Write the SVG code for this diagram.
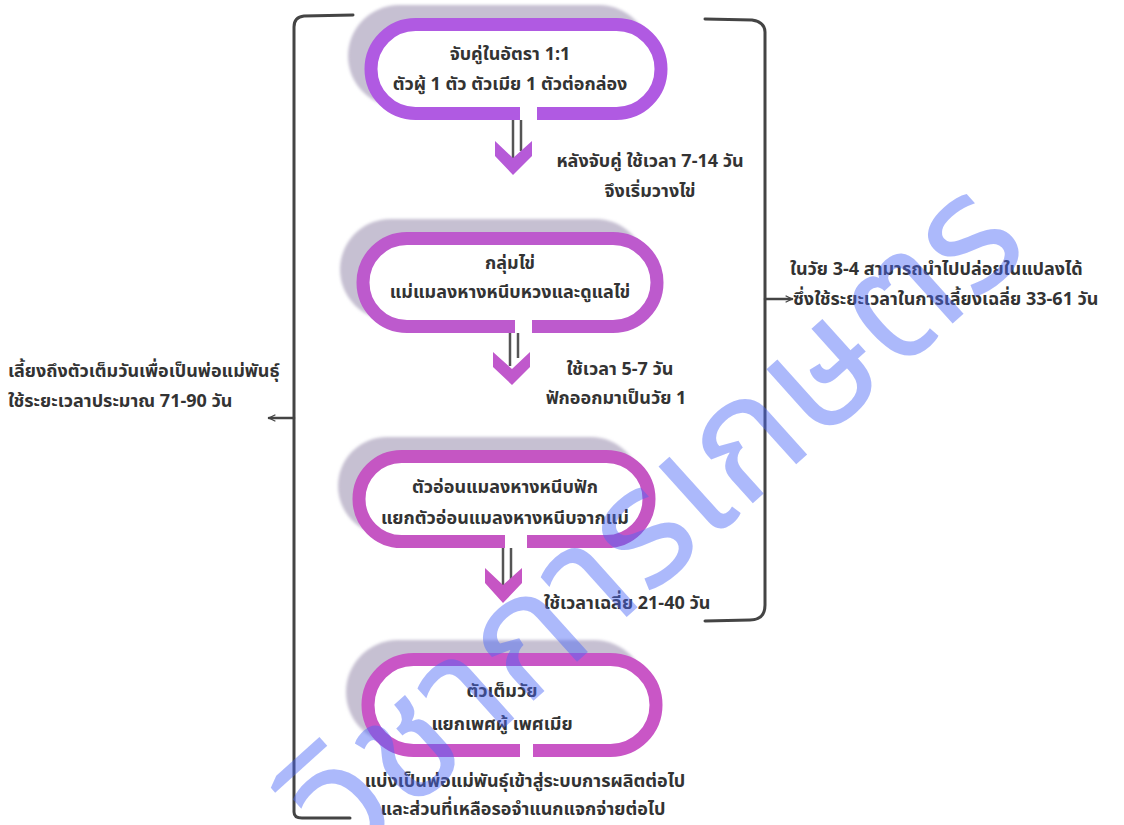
<svg xmlns="http://www.w3.org/2000/svg" width="1124" height="825" viewBox="0 0 1124 825">
<style>
.t{font-family:"Noto Sans Thai","Tahoma","Noto Sans","DejaVu Sans",sans-serif;font-weight:bold;font-size:18px;fill:#333}
.c{text-anchor:middle}
.sh{fill:#c6c0d2}
.ring{fill:#fff;stroke-width:13;stroke-linecap:butt}
.br{fill:none;stroke:#444;stroke-width:3;stroke-linecap:round;stroke-linejoin:round}
.ln{stroke:#555;stroke-width:2.5}
.wm{font-family:"Noto Sans Thai","Tahoma","Noto Sans",sans-serif;font-size:165px;fill:#4a66f7;opacity:0.45}
</style>
<defs>
<filter id="bl" x="-10%" y="-10%" width="120%" height="120%"><feGaussianBlur stdDeviation="1.5"/></filter>
<marker id="ah" viewBox="0 0 10 10" refX="9" refY="5" markerWidth="8" markerHeight="8" markerUnits="userSpaceOnUse" orient="auto"><path d="M1,1 L9,5 L1,9" fill="none" stroke="#444" stroke-width="1.6"/></marker>
</defs>

<g id="connectors">
<path class="br" d="M353,15 L304,16 Q294,17 294,27 L294,812 Q294,818 302,818 L350,818"/>
<path class="br" d="M705,19 L752,20 Q765,22 765,32 L765,605 Q765,620 750,620 L705,621"/>
<line class="br" x1="294" y1="418" x2="269" y2="418" marker-end="url(#ah)" style="stroke-width:2.5"/>
<line class="br" x1="765" y1="299" x2="792" y2="299" marker-end="url(#ah)" style="stroke-width:2.5"/>
<g id="arrow1">
<line class="ln" x1="513" y1="120" x2="513" y2="161"/>
<line class="ln" x1="521" y1="120" x2="521" y2="151"/>
<polygon points="495,141 513,158 532,141 532,156 513,175 495,156" fill="#b65ad8"/>
</g>
<g id="arrow2">
<line class="ln" x1="510" y1="333" x2="510" y2="366"/>
<line class="ln" x1="518" y1="333" x2="518" y2="358"/>
<polygon points="493,352 512,369 530,352 530,367 512,385 493,367" fill="#c058cc"/>
</g>
<g id="arrow3">
<line class="ln" x1="503" y1="548" x2="503" y2="588"/>
<line class="ln" x1="511" y1="548" x2="511" y2="580"/>
<polygon points="485,568 503,585 522,568 522,583 503,603 485,583" fill="#c655c4"/>
</g>
</g>

<g id="node1">
<rect class="sh" x="348" y="5" width="302" height="102" rx="51" filter="url(#bl)"/>
<path class="ring" stroke="#b05ae2" d="M537,113.5 L616.5,113.5 A44.5,44.5 0 0 0 616.5,24.5 L415.5,24.5 A44.5,44.5 0 0 0 415.5,113.5 L520,113.5"/>
<text class="t c" x="510" y="60">จับคู่ในอัตรา 1:1</text>
<text class="t c" x="510" y="90">ตัวผู้ 1 ตัว ตัวเมีย 1 ตัวต่อกล่อง</text>
</g>

<g id="node2">
<rect class="sh" x="340" y="219" width="306" height="101" rx="50.5" filter="url(#bl)"/>
<path class="ring" stroke="#bd5acd" d="M532,326.5 L613,326.5 A44,44 0 0 0 613,238.5 L407,238.5 A44,44 0 0 0 407,326.5 L515,326.5"/>
<text class="t c" x="510" y="269">กลุ่มไข่</text>
<text class="t c" x="510" y="298">แม่แมลงหางหนีบหวงและดูแลไข่</text>
</g>

<g id="node3">
<rect class="sh" x="338" y="437" width="302" height="98" rx="49" filter="url(#bl)"/>
<path class="ring" stroke="#c556c3" d="M527,541.5 L606.5,541.5 A42.5,42.5 0 0 0 606.5,456.5 L401.5,456.5 A42.5,42.5 0 0 0 401.5,541.5 L505,541.5"/>
<text class="t c" x="505" y="493">ตัวอ่อนแมลงหางหนีบฟัก</text>
<text class="t c" x="505" y="524">แยกตัวอ่อนแมลงหางหนีบจากแม่</text>
</g>

<g id="node4">
<rect class="sh" x="346" y="640" width="300" height="104" rx="52" filter="url(#bl)"/>
<path class="ring" stroke="#c956c6" d="M533,750.5 L610.5,750.5 A45.5,45.5 0 0 0 610.5,659.5 L413.5,659.5 A45.5,45.5 0 0 0 413.5,750.5 L520,750.5"/>
<text class="t c" x="502" y="697">ตัวเต็มวัย</text>
<text class="t c" x="502" y="730">แยกเพศผู้ เพศเมีย</text>
</g>

<g id="labels">
<text class="t c" x="650" y="167">หลังจับคู่ ใช้เวลา 7-14 วัน</text>
<text class="t c" x="650" y="197">จึงเริ่มวางไข่</text>
<text class="t c" x="620" y="375">ใช้เวลา 5-7 วัน</text>
<text class="t c" x="616" y="404">ฟักออกมาเป็นวัย 1</text>
<text class="t c" x="627" y="609">ใช้เวลาเฉลี่ย 21-40 วัน</text>
<text class="t c" x="525" y="787">แบ่งเป็นพ่อแม่พันธุ์เข้าสู่ระบบการผลิตต่อไป</text>
<text class="t c" x="523" y="815">และส่วนที่เหลือรอจำแนกแจกจ่ายต่อไป</text>
<text class="t" x="790" y="275">ในวัย 3-4 สามารถนำไปปล่อยในแปลงได้</text>
<text class="t" x="793" y="305">ซึ่งใช้ระยะเวลาในการเลี้ยงเฉลี่ย 33-61 วัน</text>
<text class="t" x="8" y="377">เลี้ยงถึงตัวเต็มวันเพื่อเป็นพ่อแม่พันธุ์</text>
<text class="t" x="8" y="407">ใช้ระยะเวลาประมาณ 71-90 วัน</text>
</g>

<text class="wm" x="0" y="0" text-anchor="middle" transform="translate(690,560) rotate(-42)">วิชาการเกษตร</text>
</svg>
